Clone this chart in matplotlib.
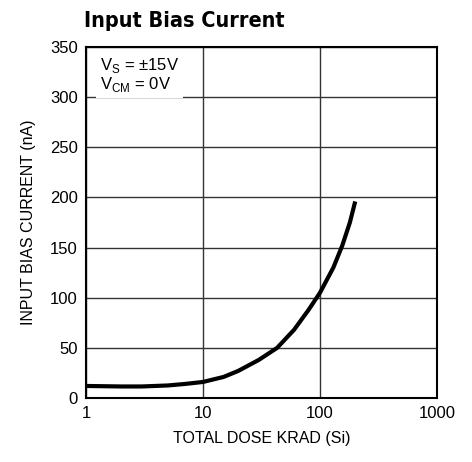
import matplotlib
matplotlib.use("Agg")
import matplotlib.pyplot as plt
from matplotlib.ticker import FixedLocator, NullLocator

dose = [1, 2, 3, 5, 7, 10, 15, 20, 30, 43, 60, 80, 100, 130, 155, 180, 200]
ib = [12, 11.5, 11.5, 12.5, 14, 16, 21, 27, 38, 50, 68, 88, 105, 130, 152, 175, 196]

xticks = [1, 10, 100, 1000]
xticklabels = ["1", "10", "100", "1000"]
yticks = [0, 50, 100, 150, 200, 250, 300, 350]

fam = ["Liberation Sans", "DejaVu Sans"]
plt.rcParams['font.family'] = fam

fig = plt.figure(figsize=(4.72, 4.62), dpi=100)
ax = fig.add_axes([86/472, 1 - 398/462, (437-86)/472, (398-47)/462])
ax.set_xscale("log")
ax.set_xlim(1, 1000)
ax.set_ylim(0, 350)
ax.xaxis.set_major_locator(FixedLocator(xticks))
ax.xaxis.set_minor_locator(NullLocator())
ax.set_xticklabels(xticklabels)
ax.set_yticks(yticks)
ax.grid(True, color="#333333", linewidth=1.0)
ax.tick_params(length=0, labelsize=12, pad=6)
for s in ax.spines.values():
    s.set_linewidth(1.5)
    s.set_color("black")

ax.plot(dose, ib, color="black", linewidth=3, solid_capstyle="butt", zorder=3)

ax.set_xlabel("TOTAL DOSE KRAD (Si)", fontsize=11.5, labelpad=7)
ax.set_ylabel("INPUT BIAS CURRENT (nA)", fontsize=11.5, labelpad=10)

ax.text(0.04, 0.975, "V$_\\mathregular{S}$ = ±15V\nV$_\\mathregular{CM}$ = 0V", transform=ax.transAxes,
        fontsize=12, va="top", ha="left", linespacing=1.0,
        bbox=dict(facecolor="white", edgecolor="none", pad=3), zorder=4)

fig.text(84/472, 1 - 21/462, "Input Bias Current", fontsize=15.5, fontweight="bold",
         family="DejaVu Sans", fontstretch="condensed", va="center", ha="left")

fig.savefig("out.png", dpi=100)
